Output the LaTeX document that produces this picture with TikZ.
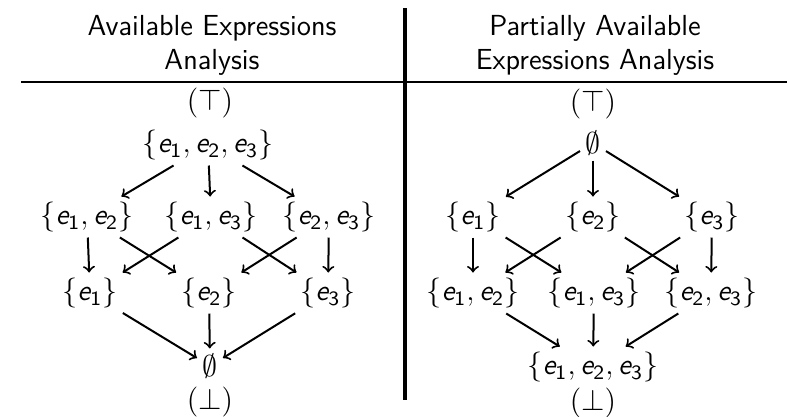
\documentclass[tikz,border=0pt]{standalone}
\usepackage{amsmath, amssymb}
\usepackage{pgf, tikz}
\pgfdeclarelayer{edgelayer}
\pgfdeclarelayer{nodelayer}
\pgfsetlayers{edgelayer,nodelayer,main}
\newcommand{\ex}[1]{\textsl{e}_{\textsf{#1}}}
\tikzstyle{edge}=[draw=black, ->, thick]
\tikzstyle{elem}=[inner sep=2pt, font=\fontsize{11.6}{14}\selectfont\sffamily]
\tikzstyle{title}=[align=center, font=\fontsize{11.6}{13.6}\selectfont\sffamily, inner sep=0pt]

\begin{document}
\begin{tikzpicture}[x=0.4pt, y=-0.4pt]
				\useasboundingbox (0, 0) rectangle (787, 416);
				\begin{pgfonlayer}{nodelayer}
					% left lattice
					\node [style=title] (h0) at (212, 45) {Available Expressions\\Analysis};
					\node [style=elem] (0) at (210, 103) {$(\top)$};
					\node [style=elem] (1) at (208, 145) {$\{\ex1, \ex2, \ex3\}$};
					\node [style=elem] (2) at (87, 217) {$\{\ex1, \ex2\}$};
					\node [style=elem] (3) at (211, 217) {$\{\ex1, \ex3\}$};
					\node [style=elem] (4) at (329, 217) {$\{\ex2, \ex3\}$};
					\node [style=elem] (5) at (90, 293) {$\{\ex1\}$};
					\node [style=elem] (6) at (209, 293) {$\{\ex2\}$};
					\node [style=elem] (7) at (328, 293) {$\{\ex3\}$};
					\node [style=elem] (8) at (210, 366) {$\emptyset$};
					\node [style=elem] (9) at (210, 402) {$(\bot)$};
					% right lattice
					\node [style=title] (h1) at (595, 45) {Partially Available\\Expressions Analysis};
					\node [style=elem] (10) at (593, 104) {$(\top)$};
					\node [style=elem] (11) at (593, 143) {$\emptyset$};
					\node [style=elem] (12) at (473, 217) {$\{\ex1\}$};
					\node [style=elem] (13) at (593, 217) {$\{\ex2\}$};
					\node [style=elem] (14) at (712, 217) {$\{\ex3\}$};
					\node [style=elem] (15) at (473, 293) {$\{\ex1, \ex2\}$};
					\node [style=elem] (16) at (594, 293) {$\{\ex1, \ex3\}$};
					\node [style=elem] (17) at (711, 293) {$\{\ex2, \ex3\}$};
					\node [style=elem] (18) at (593, 367) {$\{\ex1, \ex2, \ex3\}$};
					\node [style=elem] (19) at (593, 403) {$(\bot)$};
					\coordinate (a) at (21, 82);
					\coordinate (b) at (787, 82);
					\coordinate (c) at (405, 8);
					\coordinate (d) at (405, 400);
				\end{pgfonlayer}
				\begin{pgfonlayer}{edgelayer}
					\draw [line width=0.9pt] (a) to (b);
					\draw [line width=1.3pt] (c) to (d);
					\draw [style=edge] (1) to (2);
					\draw [style=edge] (1) to (3);
					\draw [style=edge] (1) to (4);
					\draw [style=edge] (2) to (5);
					\draw [style=edge] (2) to (6);
					\draw [style=edge] (3) to (5);
					\draw [style=edge] (3) to (7);
					\draw [style=edge] (4) to (6);
					\draw [style=edge] (4) to (7);
					\draw [style=edge] (5) to (8);
					\draw [style=edge] (6) to (8);
					\draw [style=edge] (7) to (8);
					\draw [style=edge] (11) to (12);
					\draw [style=edge] (11) to (13);
					\draw [style=edge] (11) to (14);
					\draw [style=edge] (12) to (15);
					\draw [style=edge] (12) to (16);
					\draw [style=edge] (13) to (15);
					\draw [style=edge] (13) to (17);
					\draw [style=edge] (14) to (16);
					\draw [style=edge] (14) to (17);
					\draw [style=edge] (15) to (18);
					\draw [style=edge] (16) to (18);
					\draw [style=edge] (17) to (18);
				\end{pgfonlayer}
			\end{tikzpicture}
\end{document}
